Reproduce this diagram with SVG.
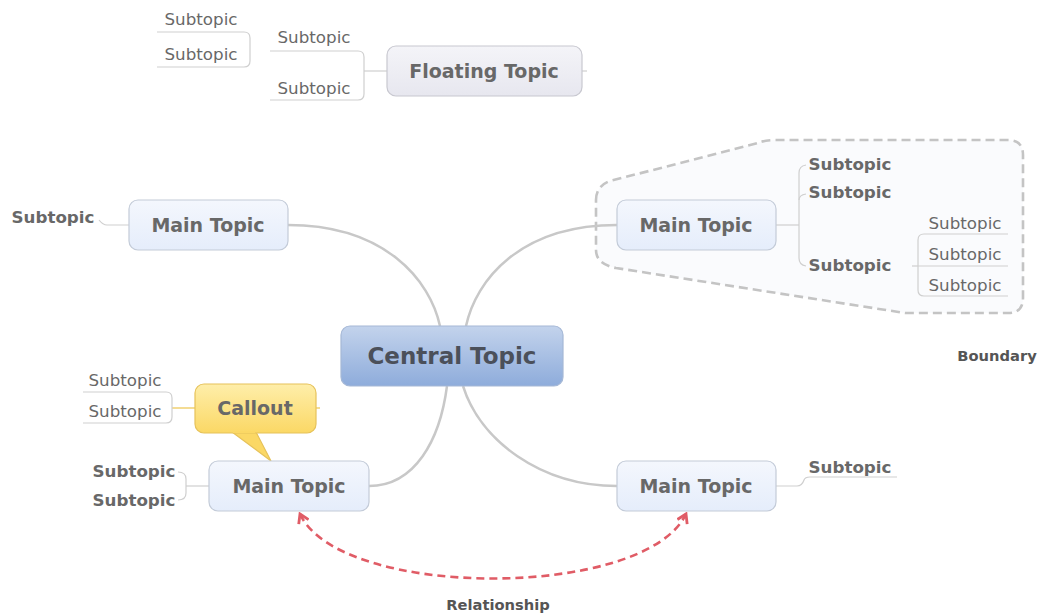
<svg xmlns="http://www.w3.org/2000/svg" width="1043" height="613" viewBox="0 0 1043 613">
<style>
text{font-family:"DejaVu Sans","Verdana",sans-serif}
.sub{font-size:16.7px;fill:#686868}
.subb{font-size:16.7px;font-weight:bold;fill:#686868}
.main{font-size:19px;font-weight:bold;fill:#686868}
.line{fill:none;stroke:#cfcfcf;stroke-width:1.2}
.branch{fill:none;stroke:#c8c8c8;stroke-width:2.5}
.mbox{fill:url(#gMain);stroke:#c3cbd8;stroke-width:1.2}
.lbl{font-size:14.7px;font-weight:bold;fill:#555}
</style>
<defs>
<linearGradient id="gMain" x1="0" y1="0" x2="0" y2="1"><stop offset="0" stop-color="#f4f7fd"/><stop offset="1" stop-color="#e5edfb"/></linearGradient>
<linearGradient id="gFloat" x1="0" y1="0" x2="0" y2="1"><stop offset="0" stop-color="#f4f4f8"/><stop offset="1" stop-color="#e7e7ef"/></linearGradient>
<linearGradient id="gCentral" x1="0" y1="0" x2="0" y2="1"><stop offset="0" stop-color="#c3d3ec"/><stop offset="1" stop-color="#8eacdb"/></linearGradient>
<linearGradient id="gCallout" x1="0" y1="0" x2="0" y2="1"><stop offset="0" stop-color="#feeeaa"/><stop offset="1" stop-color="#fbd865"/></linearGradient>
<marker id="arr" viewBox="0 0 12 12" refX="10" refY="6" markerWidth="13" markerHeight="13" markerUnits="userSpaceOnUse" orient="auto-start-reverse">
<path d="M2,1 L10,6 L2,11" fill="none" stroke="#e05c66" stroke-width="2.6"/>
</marker>
</defs>
<rect width="1043" height="613" fill="#ffffff"/>

<g id="boundary">
<path d="M596,200 Q596,186 610,181 L758,143 Q765,140 775,140 L1008,140 Q1023,140 1023,155 L1023,298 Q1023,313 1008,313 L905,313 L616,268 Q596,264 596,250 Z" fill="#fafbfd" stroke="#c4c4c4" stroke-width="2.6" stroke-dasharray="9,5"/>
<text class="lbl" x="997" y="361" text-anchor="middle">Boundary</text>
</g>

<g id="connectors">
<path class="branch" d="M288,225 C385,225 430,280 440,326"/>
<path class="branch" d="M617,225 C520,225 476,280 466,326"/>
<path class="branch" d="M447,386 C440,440 415,486 369,486"/>
<path class="branch" d="M463,386 C480,440 540,486 617,486"/>
<path class="line" d="M387,71 L364,71"/>
<path class="line" d="M270,51 L358,51 Q364,51 364,57 L364,94 Q364,100 358,100 L270,100"/>
<path class="line" d="M157,32 L244,32 Q250,32 250,38 L250,61 Q250,67 244,67 L157,67"/>
<path class="line" d="M582,71 L587,71"/>
<path class="line" d="M129,225 L107,225 Q103,225 99,220"/>
<path class="line" d="M776,225 L799,225"/>
<path class="line" d="M806,165 Q799,166 799,173 L799,258 Q799,265 806,266"/>
<path class="line" d="M799,200 Q799,195 806,194"/>
<path class="line" d="M912,266 L918,266"/>
<path class="line" d="M1008,234 L924,234 Q918,234 918,240 L918,290 Q918,296 924,296 L1008,296"/>
<path class="line" d="M918,266 L1008,266"/>
<path class="line" d="M776,486 L797,486 Q802,486 804,480 Q805,477 810,477 L897,477"/>
<path class="line" d="M209,486 L186,486"/>
<path class="line" d="M178,472 Q186,472 186,479 L186,493 Q186,500 178,500"/>
<path d="M195,408 L172,408" fill="none" stroke="#f0d070" stroke-width="1.5"/>
<path d="M316,408 L320,408" fill="none" stroke="#f0d070" stroke-width="1.5"/>
<path class="line" d="M83,392 L166,392 Q172,392 172,398 L172,417 Q172,423 166,423 L83,423"/>
<path d="M300,514 C340,600 645,600 686,514" fill="none" stroke="#e05c66" stroke-width="2.6" stroke-dasharray="8,5" marker-start="url(#arr)" marker-end="url(#arr)"/>
<text class="lbl" x="498" y="610" text-anchor="middle">Relationship</text>
</g>

<g id="floating">
<rect x="387" y="46" width="195" height="50" rx="9" fill="url(#gFloat)" stroke="#c8c8d0" stroke-width="1.2"/>
<text class="main" x="484" y="78" text-anchor="middle">Floating Topic</text>
<text class="sub" x="314" y="43" text-anchor="middle">Subtopic</text>
<text class="sub" x="314" y="94" text-anchor="middle">Subtopic</text>
<text class="sub" x="201" y="25" text-anchor="middle">Subtopic</text>
<text class="sub" x="201" y="60" text-anchor="middle">Subtopic</text>
</g>

<g id="main-tl">
<rect class="mbox" x="129" y="200" width="159" height="50" rx="9"/>
<text class="main" x="208" y="232" text-anchor="middle">Main Topic</text>
<text class="subb" x="53" y="223" text-anchor="middle">Subtopic</text>
</g>

<g id="main-tr">
<rect class="mbox" x="617" y="200" width="159" height="50" rx="9"/>
<text class="main" x="696" y="232" text-anchor="middle">Main Topic</text>
<text class="subb" x="850" y="170" text-anchor="middle">Subtopic</text>
<text class="subb" x="850" y="198" text-anchor="middle">Subtopic</text>
<text class="subb" x="850" y="271" text-anchor="middle">Subtopic</text>
<text class="sub" x="965" y="229" text-anchor="middle">Subtopic</text>
<text class="sub" x="965" y="260" text-anchor="middle">Subtopic</text>
<text class="sub" x="965" y="291" text-anchor="middle">Subtopic</text>
</g>

<g id="central">
<rect x="341" y="326" width="222" height="60" rx="9" fill="url(#gCentral)" stroke="#a5b8d6" stroke-width="1.2"/>
<text x="452" y="364" text-anchor="middle" font-size="23" font-weight="bold" fill="#4b505a">Central Topic</text>
</g>

<g id="callout">
<path d="M232,432 L271,461 L256,432 Z" fill="#fbd865" stroke="#e6c25a" stroke-width="1.2"/>
<rect x="195" y="384" width="121" height="49" rx="9" fill="url(#gCallout)" stroke="#e6c25a" stroke-width="1.2"/>
<path d="M233,432 L255,432" stroke="#fbd865" stroke-width="2"/>
<text class="main" x="255" y="415" text-anchor="middle">Callout</text>
<text class="sub" x="125" y="386" text-anchor="middle">Subtopic</text>
<text class="sub" x="125" y="417" text-anchor="middle">Subtopic</text>
</g>

<g id="main-bl">
<rect class="mbox" x="209" y="461" width="160" height="50" rx="9"/>
<text class="main" x="289" y="493" text-anchor="middle">Main Topic</text>
<text class="subb" x="134" y="477" text-anchor="middle">Subtopic</text>
<text class="subb" x="134" y="506" text-anchor="middle">Subtopic</text>
</g>

<g id="main-br">
<rect class="mbox" x="617" y="461" width="159" height="50" rx="9"/>
<text class="main" x="696" y="493" text-anchor="middle">Main Topic</text>
<text class="subb" x="850" y="473" text-anchor="middle">Subtopic</text>
</g>
</svg>
